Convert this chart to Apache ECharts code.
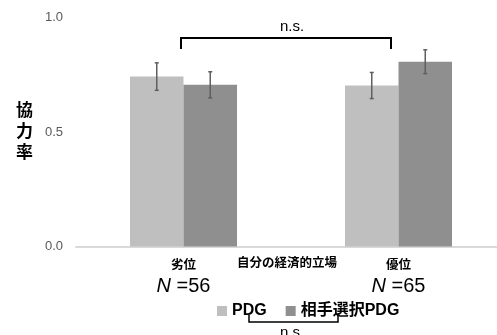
<!DOCTYPE html>
<html><head><meta charset="utf-8">
<script src="https://cdn.jsdelivr.net/npm/echarts@6/dist/echarts.min.js"></script>
<style>html,body{margin:0;padding:0;background:#fff}#c{width:497px;height:335px}</style>
</head><body><div id="c"></div>
<script>
const categories = ['劣位', '優位'];
const nValues = [56, 65];
const seriesNames = ['PDG', '相手選択PDG'];
const pdgValues = [0.742, 0.703];
const pdgErrors = [0.060, 0.057];
const selValues = [0.706, 0.807];
const selErrors = [0.057, 0.052];
const yTicks = [0, 0.5, 1.0];
const xAxisTitle = '自分の経済的立場';

const FONT = '"Liberation Sans", "Noto Sans CJK JP", sans-serif';
const BW = 53.5;
const chart = echarts.init(document.getElementById('c'));

function errSeries(values, errors, side) {
  return {
    type: 'custom',
    silent: true,
    z: 5,
    data: values.map((v, i) => [i, v, errors[i]]),
    renderItem: function (params, api) {
      const i = api.value(0), v = api.value(1), e = api.value(2);
      const top = api.coord([i, v + e]);
      const bot = api.coord([i, v - e]);
      const x = top[0] + side * BW / 2;
      const st = { stroke: '#5f5f5f', lineWidth: 1.5 };
      return { type: 'group', children: [
        { type: 'line', shape: { x1: x, y1: top[1], x2: x, y2: bot[1] }, style: st },
        { type: 'line', shape: { x1: x - 2, y1: top[1], x2: x + 2, y2: top[1] }, style: st },
        { type: 'line', shape: { x1: x - 2, y1: bot[1], x2: x + 2, y2: bot[1] }, style: st }
      ]};
    }
  };
}

chart.setOption({
  animation: false,
  textStyle: { fontFamily: FONT },
  grid: { left: 76, width: 430, top: 17.5, bottom: 88.5, outerBoundsMode: 'none', containLabel: false },
  legend: {
    data: seriesNames,
    top: 298, left: 212,
    itemWidth: 10, itemHeight: 10, itemGap: 19,
    icon: 'rect',
    textStyle: { fontSize: 16, fontWeight: 'bold', color: '#000', fontFamily: FONT }
  },
  xAxis: {
    type: 'category',
    data: categories,
    axisLine: { lineStyle: { color: '#d9d9d9', width: 2 } },
    axisTick: { show: false },
    axisLabel: {
      margin: 11,
      formatter: function (v, i) { return '{c|' + v + '}\n{i|N}{n| =' + nValues[i] + '}'; },
      rich: {
        c: { fontSize: 12.5, fontWeight: 'bold', color: '#000', lineHeight: 17, fontFamily: FONT },
        i: { fontSize: 20, fontStyle: 'italic', color: '#000', lineHeight: 24, fontFamily: FONT },
        n: { fontSize: 20, color: '#000', lineHeight: 24, fontFamily: FONT }
      }
    }
  },
  yAxis: {
    type: 'value',
    min: 0, max: 1, interval: 0.5,
    name: '協\n力\n率',
    nameLocation: 'middle',
    nameRotate: 0,
    nameGap: 43,
    nameTextStyle: { fontSize: 17, fontWeight: 'bold', color: '#000', lineHeight: 21 },
    splitLine: { show: false },
    axisLine: { show: false },
    axisTick: { show: false },
    axisLabel: {
      margin: 13, fontSize: 13, color: '#595959',
      formatter: function (v) { return yTicks.indexOf(v) >= 0 ? v.toFixed(1) : ''; }
    }
  },
  series: [
    { name: seriesNames[0], type: 'bar', data: pdgValues, barWidth: BW, barGap: '0%', itemStyle: { color: '#bfbfbf' } },
    { name: seriesNames[1], type: 'bar', data: selValues, barWidth: BW, barGap: '0%', itemStyle: { color: '#8f8f8f' } },
    errSeries(pdgValues, pdgErrors, -1),
    errSeries(selValues, selErrors, 1)
  ],
  graphic: [
    { type: 'text', style: { text: xAxisTitle, x: 287, y: 264, align: 'center', verticalAlign: 'middle', fontSize: 12.5, fontWeight: 'bold', fill: '#000', fontFamily: FONT } },
    { type: 'polyline', shape: { points: [[181, 49], [181, 38], [391, 38], [391, 49]] }, style: { stroke: '#000', lineWidth: 2, fill: null } },
    { type: 'text', style: { text: 'n.s.', x: 292, y: 27, align: 'center', verticalAlign: 'middle', fontSize: 15, fill: '#000', fontFamily: FONT } },
    { type: 'polyline', shape: { points: [[249, 315], [249, 322], [338, 322], [338, 313]] }, style: { stroke: '#000', lineWidth: 1.5, fill: null } },
    { type: 'text', style: { text: 'n.s.', x: 292, y: 333, align: 'center', verticalAlign: 'middle', fontSize: 15, fill: '#000', fontFamily: FONT } }
  ]
});
</script></body></html>
